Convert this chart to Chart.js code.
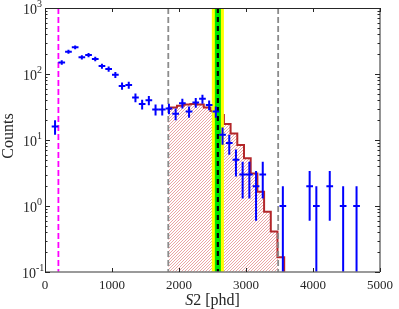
<!DOCTYPE html>
<html>
<head>
<meta charset="utf-8">
<script src="https://cdn.jsdelivr.net/npm/chart.js@4.4.0/dist/chart.umd.min.js"></script>
<style>
  html,body{margin:0;padding:0;background:#fff;}
  #wrap{width:399px;height:309px;}
</style>
</head>
<body>
<div id="wrap"><canvas id="c" width="399" height="309"></canvas></div>
<script>
// measured S2 spectrum, 100 phd bins
const binCenters = [150,250,350,450,550,650,750,850,950,1050,1150,1250,1350,1450,1550,1650,1750,1850,1950,2050,
  2150,2250,2350,2450,2550,2650,2750,2850,2950,3050,3150,3250,3350,3450,3550,3650,3750,3850,3950,4050,
  4150,4250,4350,4450,4550,4650];
const counts = [16,150,218,254,179,194,169,132,119,97,66,68,44,35,40,29,29,30,25,36,
  27,37,42,34,27,12,9,5,3,3,2,3,0,0,1,0,0,0,2,1,
  0,2,0,1,0,1];
const countErr = [4,12.2,14.8,15.9,13.4,13.9,13,11.5,10.9,9.8,8.1,8.2,6.6,5.9,6.3,5.4,5.4,5.5,5,6,
  5.2,6.1,6.5,5.8,5.2,3.5,3,2.2,1.7,1.7,1.4,1.7,0,0,1,0,0,0,1.4,1,
  0,1.4,0,1,0,1];
const binHalfWidth = 50;

// expected spectrum (red step histogram), left bin edges + values
const histEdges = [1840,1870,1970,2070,2170,2270,2370,2470,2570,2670,2770,2870,2970,3070,3170,3270,3370,3470,3570];
const histValues = [29.5,31,33,34.5,35,34.5,31,27.5,24,17.5,12.6,8.4,5.3,3.1,1.65,0.82,0.41,0.167];

// cut lines and peak window
const s2Threshold = 200;
const windowLo = 1840, windowHi = 3480;
const peakCenter = 2580;
const peakGreen = [2535, 2625];
const peakYellow = [2490, 2670];

const xTicks = [0,1000,2000,3000,4000,5000];
const yDecades = [-1,0,1,2,3];

const serif = '"Liberation Serif", "DejaVu Serif", serif';
const axisCol = '#262626';

// points for the datasets
const crossPts = [];
binCenters.forEach((c, i) => { if (counts[i] > 0) crossPts.push({x: c, y: counts[i], e: countErr[i]}); });

const histPts = histValues.map((v, i) => ({x: histEdges[i], y: v}));
histPts.push({x: histEdges[histEdges.length-1], y: histValues[histValues.length-1]});
histPts.push({x: histEdges[histEdges.length-1], y: 0.01});

const fillPts = [];
histValues.forEach((v, i) => { if (histEdges[i] < windowHi) fillPts.push({x: histEdges[i], y: v}); });
fillPts.push({x: windowHi, y: fillPts[fillPts.length-1].y});

const ctx = document.getElementById('c').getContext('2d');

// diagonal hatch, pixel by pixel
const pc = document.createElement('canvas'); pc.width = 3; pc.height = 3;
const pg = pc.getContext('2d');
pg.fillStyle = '#ffffff'; pg.fillRect(0, 0, 3, 3);
pg.fillStyle = 'rgb(234,165,165)';
pg.fillRect(0, 2, 1, 1); pg.fillRect(1, 1, 1, 1); pg.fillRect(2, 0, 1, 1);
const hatch = ctx.createPattern(pc, 'repeat');

function clipArea(c, a){ c.beginPath(); c.rect(a.left, a.top, a.right-a.left, a.bottom-a.top); c.clip(); }

const decor = {
  id: 'decor',
  afterDatasetDraw(chart, args){
    if(args.index !== 1) return;
    const {ctx: c, chartArea: a, scales: {x}} = chart;
    c.save(); clipArea(c, a);
    const band = (lo, hi, col) => {
      const x0 = x.getPixelForValue(lo), x1 = x.getPixelForValue(hi);
      c.fillStyle = col; c.fillRect(x0, a.top, x1-x0, a.bottom-a.top);
    };
    band(peakYellow[0], peakYellow[1], '#ffff00');
    band(peakGreen[0], peakGreen[1], '#00e800');
    const vline = (v, col, w, dash) => {
      const px = x.getPixelForValue(v);
      c.strokeStyle = col; c.lineWidth = w; c.setLineDash(dash);
      c.beginPath(); c.moveTo(px, a.top); c.lineTo(px, a.bottom); c.stroke();
    };
    vline(peakCenter, '#000', 2.2, [5,4]);
    vline(windowLo, '#8c8c8c', 1.8, [6,3]);
    vline(windowHi, '#8c8c8c', 1.8, [6,3]);
    vline(s2Threshold, '#ff00ff', 1.8, [6,3]);
    c.restore();
  },
  afterDatasetsDraw(chart){
    const {ctx: c, chartArea: a, scales: {x, y}} = chart;
    c.save(); clipArea(c, a);
    c.strokeStyle = '#0000ff'; c.lineWidth = 2;
    crossPts.forEach(p => {
      const px = x.getPixelForValue(p.x), py = y.getPixelForValue(p.y);
      const lo = p.y - p.e;
      const yTop = y.getPixelForValue(p.y + p.e);
      const yBot = lo > 0 ? y.getPixelForValue(lo) : a.bottom + 2;
      c.beginPath();
      c.moveTo(x.getPixelForValue(p.x - binHalfWidth), py); c.lineTo(x.getPixelForValue(p.x + binHalfWidth), py);
      c.moveTo(px, yTop); c.lineTo(px, yBot);
      c.stroke();
    });
    c.restore();
  },
  afterDraw(chart){
    const {ctx: c, chartArea: a, scales: {x, y}} = chart;
    c.save();
    c.strokeStyle = axisCol; c.lineWidth = 1;
    // box
    c.beginPath();
    c.moveTo(a.left+0.5, a.top+0.5); c.lineTo(a.right, a.top+0.5);
    c.moveTo(a.left+0.5, a.top); c.lineTo(a.left+0.5, a.bottom);
    c.stroke();
    c.strokeStyle = '#7a7a7a'; c.lineWidth = 1.6;
    c.beginPath();
    c.moveTo(a.left, a.bottom); c.lineTo(a.right, a.bottom);
    c.moveTo(a.right, a.top); c.lineTo(a.right, a.bottom);
    c.stroke();
    // ticks
    c.strokeStyle = axisCol; c.lineWidth = 1;
    c.beginPath();
    xTicks.forEach(v => {
      const px = Math.round(x.getPixelForValue(v)) + 0.5;
      c.moveTo(px, a.bottom); c.lineTo(px, a.bottom - 4);
      c.moveTo(px, a.top); c.lineTo(px, a.top + 4);
    });
    yDecades.forEach(d => {
      for(let k = 1; k <= 9; k++){
        const v = k * Math.pow(10, d);
        if(v > 1000.0001) break;
        const py = Math.round(y.getPixelForValue(v)) + 0.5;
        const len = k === 1 ? 5 : 2.5;
        c.moveTo(a.left, py); c.lineTo(a.left + len, py);
        c.moveTo(a.right, py); c.lineTo(a.right - len, py);
      }
    });
    c.stroke();
    // y tick labels 10^n
    c.fillStyle = axisCol; c.textBaseline = 'middle'; c.textAlign = 'left';
    yDecades.forEach(d => {
      const py = y.getPixelForValue(Math.pow(10, d));
      const lx = d < 0 ? 22 : 23;
      c.font = '14px ' + serif;
      c.fillText('10', lx, py + 2.5);
      const w = c.measureText('10').width;
      c.font = '10px ' + serif;
      c.fillText(d < 0 ? '-' + (-d) : String(d), lx + w, py - 3.5);
    });
    // axis titles
    c.font = 'italic 16px ' + serif;
    const sW = c.measureText('S').width;
    c.font = '16px ' + serif;
    const rW = c.measureText('2 [phd]').width;
    const cx = (a.left + a.right) / 2;
    let sx = cx - (sW + rW) / 2;
    c.textBaseline = 'alphabetic';
    c.font = 'italic 16px ' + serif; c.fillText('S', sx, 305);
    c.font = '16px ' + serif; c.fillText('2 [phd]', sx + sW, 305);
    c.translate(13, (a.top + a.bottom) / 2 - 4);
    c.rotate(-Math.PI / 2);
    c.textAlign = 'center';
    c.font = '16px ' + serif;
    c.fillText('Counts', 0, 0);
    c.restore();
  }
};

new Chart(ctx, {
  type: 'line',
  data: {
    datasets: [
      {type: 'scatter', data: crossPts, pointRadius: 0, showLine: false},
      {data: histPts, stepped: true, borderColor: '#b3272a', borderWidth: 2, pointRadius: 0, fill: false},
      {data: fillPts, stepped: true, borderWidth: 0, borderColor: 'rgba(0,0,0,0)', pointRadius: 0, backgroundColor: hatch, fill: 'start'}
    ]
  },
  options: {
    responsive: false,
    animation: false,
    devicePixelRatio: 1,
    layout: {padding: {left: 0, right: 14, top: 8, bottom: 0}},
    plugins: {legend: {display: false}, tooltip: {enabled: false}},
    scales: {
      x: {
        type: 'linear', min: 0, max: 5000,
        grid: {display: false, drawTicks: false}, border: {display: false},
        ticks: {stepSize: 1000, maxRotation: 0, padding: 6, color: axisCol, font: {family: serif, size: 13},
          callback: v => String(v)},
        afterFit: s => { s.height = 37; }
      },
      y: {
        type: 'logarithmic', min: 0.1, max: 1000,
        grid: {display: false}, border: {display: false},
        ticks: {display: false},
        afterFit: s => { s.width = 45; }
      }
    }
  },
  plugins: [decor]
});
</script>
</body>
</html>
